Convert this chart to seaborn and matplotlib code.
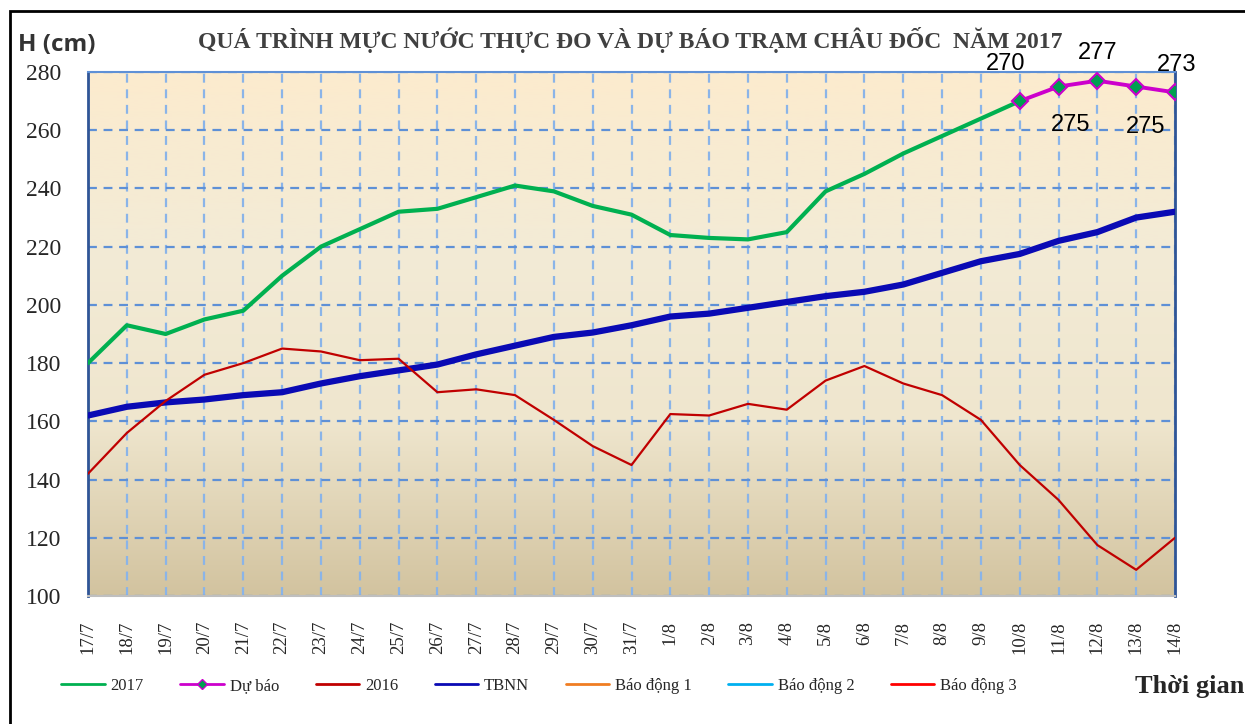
import numpy as np
import pandas as pd
import seaborn as sns
import matplotlib.pyplot as plt
from matplotlib.lines import Line2D
from matplotlib.patches import Rectangle
from matplotlib.colors import LinearSegmentedColormap

# ngay quan trac
days = ['17/7', '18/7', '19/7', '20/7', '21/7', '22/7', '23/7', '24/7', '25/7', '26/7',
        '27/7', '28/7', '29/7', '30/7', '31/7', '1/8', '2/8', '3/8', '4/8', '5/8',
        '6/8', '7/8', '8/8', '9/8', '10/8', '11/8', '12/8', '13/8', '14/8']

# muc nuoc 2017 (thuc do, 17/7 -> 10/8)
h2017 = [180, 193, 190, 195, 198, 210, 220, 226, 232, 233, 237, 241, 239, 234, 231,
         224, 223, 222.5, 225, 239, 245, 252, 258, 264, 270]
# du bao 10/8 -> 14/8
du_bao = [270, 275, 277, 275, 273]
# nam 2016
h2016 = [142, 156, 167, 176, 180, 185, 184, 181, 181.5, 170, 171, 169, 160.5, 151.5, 145,
         162.5, 162, 166, 164, 174, 179, 173, 169, 160.5, 145, 133, 117.5, 109, 120]
# trung binh nhieu nam
tbnn = [162, 165, 166.5, 167.5, 169, 170, 173, 175.5, 177.5, 179.5, 183, 186, 189, 190.5, 193,
        196, 197, 199, 201, 203, 204.5, 207, 211, 215, 217.5, 222, 225, 230, 232]

x_all = np.arange(len(days))
x_obs = x_all[:len(h2017)]
x_fc = x_all[len(h2017) - 1:]

sns.set_theme(style="white")
plt.rcParams['font.family'] = ['Liberation Serif', 'DejaVu Serif']

fig = plt.figure(figsize=(12.45, 7.24), dpi=100)
ax = fig.add_axes([88 / 1245, 1 - 596 / 724, 1087 / 1245, 524 / 724])

# nen chuyen mau
grad = LinearSegmentedColormap.from_list('bg', ['#FCEBCE', '#F3EBD6', '#EFE6CE', '#D2C39F'])
ax.imshow(np.linspace(0, 1, 256).reshape(-1, 1), cmap=grad, aspect='auto',
          extent=[0, 1, 0, 1], transform=ax.transAxes, zorder=0)

ax.xaxis.grid(True, linestyle=(0, (4, 3)), color='#8AB4E8', lw=1.6)
ax.yaxis.grid(True, linestyle=(0, (4, 3)), color='#5E90D6', lw=1.6)
ax.set_axisbelow(True)

sns.lineplot(x=x_all, y=tbnn, color='#0A0AB4', lw=4.5, ax=ax, zorder=3)
sns.lineplot(x=x_all, y=h2016, color='#C00000', lw=1.6, ax=ax, zorder=4)
sns.lineplot(x=x_obs, y=h2017, color='#00B050', lw=3, ax=ax, zorder=5)
sns.lineplot(x=x_fc, y=du_bao, color='#CC00CC', lw=2.8, marker='D', markersize=8,
             markerfacecolor='#00A050', markeredgecolor='#CC00CC', markeredgewidth=1.5,
             ax=ax, zorder=6)

# nhan gia tri du bao
offsets = [(-10, 27), (8.5, -28), (0, 20), (7, -29), (1.5, 20)]
for xi, v, off in zip(x_fc, du_bao, offsets):
    ax.annotate(str(v), (xi, v), xytext=off, textcoords='offset points', ha='center', va='center',
                fontsize=17, family='Liberation Sans', color='black', zorder=7,
                annotation_clip=False)

ax.set_xlim(0, len(days) - 1)
ax.set_ylim(100, 280)
ax.set_yticks(range(100, 281, 20))
ax.set_xticks(x_all)
ax.set_xticklabels(days, rotation=90, fontsize=13.5, color='#262626')
ax.tick_params(axis='y', labelsize=17, pad=19, length=0, labelcolor='#262626')
ax.tick_params(axis='x', pad=18, length=0)

for side in ['left', 'right']:
    ax.spines[side].set_color('#2F5597')
    ax.spines[side].set_linewidth(2)
ax.spines['top'].set_color('#5E90D6')
ax.spines['top'].set_linewidth(1.5)
ax.spines['bottom'].set_color('#BFBFBF')
ax.spines['bottom'].set_linewidth(1.5)

fig.text(0.506, 1 - 40 / 724, 'QUÁ TRÌNH MỰC NƯỚC THỰC ĐO VÀ DỰ BÁO TRẠM CHÂU ĐỐC  NĂM 2017',
         ha='center', va='center', fontsize=17, fontweight='bold', color='#404040')
fig.text(18 / 1245, 1 - 45 / 724, 'H (cm)', ha='left', va='center', fontsize=17.5,
         fontweight='bold', family='Open Sans', color='#333333')
fig.text(1244 / 1245, 1 - 686 / 724, 'Thời gian', ha='right', va='center', fontsize=19,
         fontweight='bold', color='#262626')

handles = [
    Line2D([], [], color='#00B050', lw=2),
    Line2D([], [], color='#CC00CC', lw=2, marker='D', markersize=5,
           markerfacecolor='#00A050', markeredgecolor='#CC00CC'),
    Line2D([], [], color='#C00000', lw=2),
    Line2D([], [], color='#0A0AB4', lw=2),
    Line2D([], [], color='#F07D22', lw=2),
    Line2D([], [], color='#00B0F0', lw=2),
    Line2D([], [], color='#FF0000', lw=2),
]
labels = ['2017', 'Dự báo', '2016', 'TBNN', 'Báo động 1', 'Báo động 2', 'Báo động 3']
fig.legend(handles, labels, loc='center', bbox_to_anchor=(539 / 1245, 1 - 686 / 724),
           ncol=7, frameon=False, fontsize=12, handlelength=2.6, columnspacing=2.2,
           handletextpad=0.35, labelcolor='#262626')

# khung ngoai
fig.patches.append(Rectangle((10 / 1245, -0.05), 1.2, 1 - 11 / 724 + 0.05, transform=fig.transFigure,
                             fill=False, edgecolor='black', lw=2, zorder=0))

fig.savefig('out.png', dpi=100)
